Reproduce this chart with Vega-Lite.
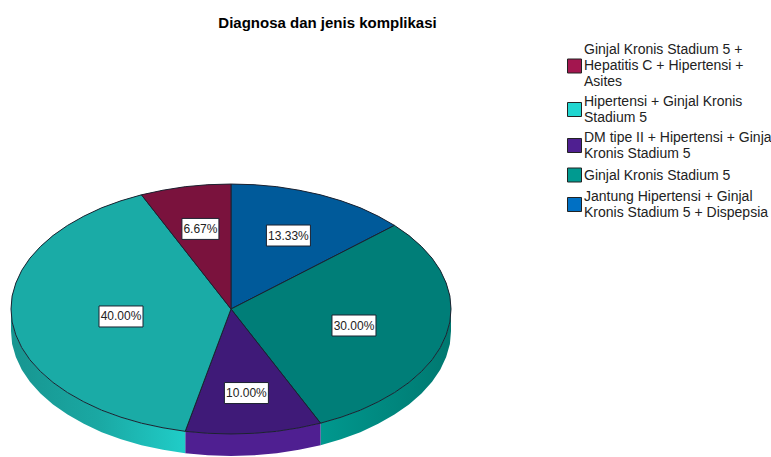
{
"$schema":"https://vega.github.io/schema/vega-lite/v6.json",
"width":771,"height":422,"padding":{"top":35,"left":0,"right":0,"bottom":0},"autosize":"none","background":"white",
"title":{"text":"Diagnosa dan jenis komplikasi","font":"Liberation Sans","fontSize":15,"fontWeight":"bold","color":"#000000","anchor":"middle","frame":"group","dx":-58,"offset":4},
"config":{"view":{"stroke":null}},
"datasets":{
"irisan":[
{"type":"Feature","properties":{"name":"Jantung Hipertensi + Ginjal\nKronis Stadium 5 + Dispepsia","persen":13.33},"geometry":{"type":"Polygon","coordinates":[[[0,0],[0,0.568],[0.105,0.565],[0.208,0.556],[0.309,0.54],[0.407,0.519],[0.5,0.492],[0.588,0.46],[0.669,0.422],[0.743,0.38],[0,0]]]}},
{"type":"Feature","properties":{"name":"Ginjal Kronis Stadium 5","persen":30},"geometry":{"type":"Polygon","coordinates":[[[0,0],[0.743,0.38],[0.809,0.334],[0.866,0.284],[0.914,0.231],[0.951,0.176],[0.978,0.118],[0.995,0.059],[1,0],[0.995,-0.059],[0.978,-0.118],[0.951,-0.176],[0.914,-0.231],[0.866,-0.284],[0.809,-0.334],[0.743,-0.38],[0.669,-0.422],[0.588,-0.46],[0.5,-0.492],[0.407,-0.519],[0,0]]]}},
{"type":"Feature","properties":{"name":"DM tipe II + Hipertensi + Ginjal\nKronis Stadium 5","persen":10},"geometry":{"type":"Polygon","coordinates":[[[0,0],[0.407,-0.519],[0.309,-0.54],[0.208,-0.556],[0.105,-0.565],[0,-0.568],[-0.105,-0.565],[-0.208,-0.556],[0,0]]]}},
{"type":"Feature","properties":{"name":"Hipertensi + Ginjal Kronis\nStadium 5","persen":40},"geometry":{"type":"Polygon","coordinates":[[[0,0],[-0.208,-0.556],[-0.309,-0.54],[-0.407,-0.519],[-0.5,-0.492],[-0.588,-0.46],[-0.669,-0.422],[-0.743,-0.38],[-0.809,-0.334],[-0.866,-0.284],[-0.914,-0.231],[-0.951,-0.176],[-0.978,-0.118],[-0.995,-0.059],[-1,0],[-0.995,0.059],[-0.978,0.118],[-0.951,0.176],[-0.914,0.231],[-0.866,0.284],[-0.809,0.334],[-0.743,0.38],[-0.669,0.422],[-0.588,0.46],[-0.5,0.492],[-0.407,0.519],[0,0]]]}},
{"type":"Feature","properties":{"name":"Ginjal Kronis Stadium 5 +\nHepatitis C + Hipertensi +\nAsites","persen":6.67},"geometry":{"type":"Polygon","coordinates":[[[0,0],[-0.407,0.519],[-0.309,0.54],[-0.208,0.556],[-0.105,0.565],[0,0.568],[0,0]]]}}
],
"labels":[
{"persen":"6.67%","lon":-0.139,"lat":0.364},
{"persen":"13.33%","lon":0.261,"lat":0.334},
{"persen":"40.00%","lon":-0.5,"lat":-0.034},
{"persen":"30.00%","lon":0.559,"lat":-0.075},
{"persen":"10.00%","lon":0.07,"lat":-0.382}
]},
"projection":{"type":"identity","reflectY":true,"scale":220,"translate":[231,274]},
"resolve":{"scale":{"color":"independent"},"legend":{"color":"independent"}},
"layer":[
{"data":{"values":[{"type":"Feature","properties":{"name":"Ginjal Kronis Stadium 5"},"geometry":{"type":"Polygon","coordinates":[[[1,0],[0.995,-0.059],[0.978,-0.118],[0.951,-0.176],[0.914,-0.231],[0.866,-0.284],[0.809,-0.334],[0.743,-0.38],[0.669,-0.422],[0.588,-0.46],[0.5,-0.492],[0.407,-0.519],[0.407,-0.619],[0.5,-0.592],[0.588,-0.56],[0.669,-0.522],[0.743,-0.48],[0.809,-0.434],[0.866,-0.384],[0.914,-0.331],[0.951,-0.276],[0.978,-0.218],[0.995,-0.159],[1,-0.1],[1,0]]]}}]},
 "mark":{"type":"geoshape","strokeWidth":0,"fill":{"gradient":"linear","x1":0,"x2":1,"y1":0,"y2":0,"stops":[{"offset":0,"color":"#00988e"},{"offset":1,"color":"#007870"}]}}},
{"data":{"values":[{"type":"Feature","properties":{"name":"DM tipe II + Hipertensi + Ginjal Kronis Stadium 5"},"geometry":{"type":"Polygon","coordinates":[[[0.407,-0.519],[0.309,-0.54],[0.208,-0.556],[0.105,-0.565],[0,-0.568],[-0.105,-0.565],[-0.208,-0.556],[-0.208,-0.656],[-0.105,-0.665],[0,-0.668],[0.105,-0.665],[0.208,-0.656],[0.309,-0.64],[0.407,-0.619],[0.407,-0.519]]]}}]},
 "mark":{"type":"geoshape","strokeWidth":0,"fill":"#4f1f91"}},
{"data":{"values":[{"type":"Feature","properties":{"name":"Hipertensi + Ginjal Kronis Stadium 5"},"geometry":{"type":"Polygon","coordinates":[[[-0.208,-0.556],[-0.309,-0.54],[-0.407,-0.519],[-0.5,-0.492],[-0.588,-0.46],[-0.669,-0.422],[-0.743,-0.38],[-0.809,-0.334],[-0.866,-0.284],[-0.914,-0.231],[-0.951,-0.176],[-0.978,-0.118],[-0.995,-0.059],[-1,0],[-1,-0.1],[-0.995,-0.159],[-0.978,-0.218],[-0.951,-0.276],[-0.914,-0.331],[-0.866,-0.384],[-0.809,-0.434],[-0.743,-0.48],[-0.669,-0.522],[-0.588,-0.56],[-0.5,-0.592],[-0.407,-0.619],[-0.309,-0.64],[-0.208,-0.656],[-0.208,-0.556]]]}}]},
 "mark":{"type":"geoshape","strokeWidth":0,"fill":{"gradient":"linear","x1":0,"x2":1,"y1":0,"y2":0,"stops":[{"offset":0,"color":"#179590"},{"offset":0.5,"color":"#1aa8a3"},{"offset":1,"color":"#20cdc8"}]}}},
{"data":{"name":"irisan"},
 "mark":{"type":"geoshape","strokeWidth":0},
 "encoding":{"color":{"field":"properties.name","type":"nominal","scale":{"domain":["Ginjal Kronis Stadium 5 +\nHepatitis C + Hipertensi +\nAsites","Hipertensi + Ginjal Kronis\nStadium 5","DM tipe II + Hipertensi + Ginjal\nKronis Stadium 5","Ginjal Kronis Stadium 5","Jantung Hipertensi + Ginjal\nKronis Stadium 5 + Dispepsia"],"range":["#a3164f","#20d6d0","#4f1f91","#009a90","#0070c4"]},
 "legend":{"orient":"none","legendX":567,"legendY":7,"title":null,"symbolType":"square","symbolSize":196,"symbolStrokeColor":"#222222","symbolStrokeWidth":1,"symbolOpacity":1,"labelFont":"Liberation Sans","labelFontSize":14,"labelColor":"#222222","labelLimit":400,"labelOffset":2,"labelLineHeight":17,"rowPadding":5,"labelExpr":"split(datum.label,'\\n')",
 "encode":{"symbols":{"update":{"y":{"signal":"7+8.5*(length(split(datum.value,'\\n'))-1)"}}}}}}}},
{"data":{"name":"irisan"},
 "mark":{"type":"geoshape","stroke":"#1c2230","strokeWidth":1},
 "encoding":{"color":{"field":"properties.name","type":"nominal","legend":null,"scale":{"domain":["Ginjal Kronis Stadium 5 +\nHepatitis C + Hipertensi +\nAsites","Hipertensi + Ginjal Kronis\nStadium 5","DM tipe II + Hipertensi + Ginjal\nKronis Stadium 5","Ginjal Kronis Stadium 5","Jantung Hipertensi + Ginjal\nKronis Stadium 5 + Dispepsia"],"range":["#7a123d","#1aaba6","#3f1a78","#007e78","#005a9a"]}}}},
{"data":{"name":"labels"},
 "transform":[{"filter":"datum.persen!='6.67%'"}],
 "mark":{"type":"rect","width":44,"height":21,"fill":"white","stroke":"#1c2230","strokeWidth":1},
 "encoding":{"longitude":{"field":"lon","type":"quantitative"},"latitude":{"field":"lat","type":"quantitative"}}},
{"data":{"name":"labels"},
 "transform":[{"filter":"datum.persen=='6.67%'"}],
 "mark":{"type":"rect","width":37,"height":21,"fill":"white","stroke":"#1c2230","strokeWidth":1},
 "encoding":{"longitude":{"field":"lon","type":"quantitative"},"latitude":{"field":"lat","type":"quantitative"}}},
{"data":{"name":"labels"},
 "mark":{"type":"text","font":"Liberation Sans","fontSize":12,"color":"#222222","align":"center","baseline":"middle"},
 "encoding":{"longitude":{"field":"lon","type":"quantitative"},"latitude":{"field":"lat","type":"quantitative"},"text":{"field":"persen","type":"nominal"}}}
]
}
